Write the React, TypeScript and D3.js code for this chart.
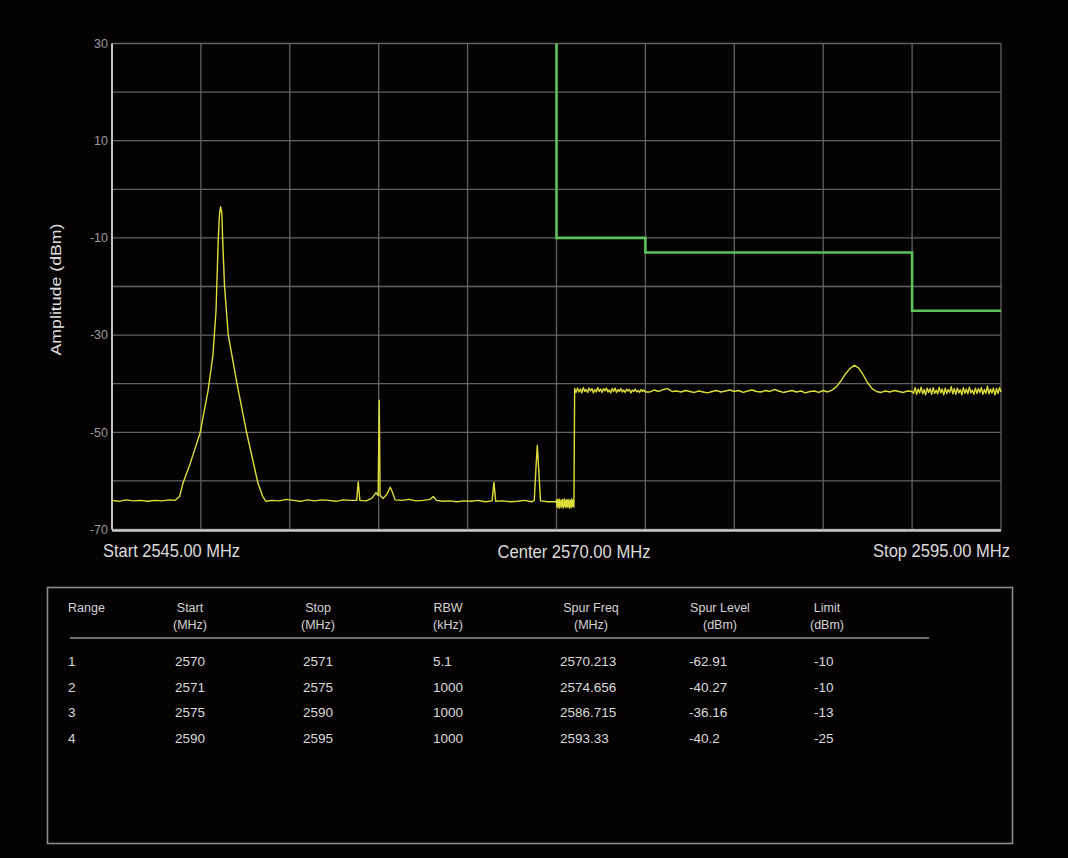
import * as d3 from 'd3';

// sweep settings
const startFreq = 2545;
const centerFreq = 2570;
const stopFreq = 2595;
const ampMin = -70;
const ampMax = 30;
const yTickLabels = [30, 10, -10, -30, -50, -70];

// spur table
const rangeIds = [1, 2, 3, 4];
const rangeStart = [2570, 2571, 2575, 2590];
const rangeStop = [2571, 2575, 2590, 2595];
const rbwKHz = [5.1, 1000, 1000, 1000];
const spurFreq = [2570.213, 2574.656, 2586.715, 2593.33];
const spurLevel = [-62.91, -40.27, -36.16, -40.2];
const limitDbm = [-10, -10, -13, -25];
const tableHeaders = [['Range'], ['Start', '(MHz)'], ['Stop', '(MHz)'], ['RBW', '(kHz)'], ['Spur Freq', '(MHz)'], ['Spur Level', '(dBm)'], ['Limit', '(dBm)']];

// carrier and low band, [MHz, dBm]
const carrierTrace: [number, number][] = [
  [2545.0, -64.0], [2545.4, -64.2], [2545.8, -63.9], [2546.2, -64.1], [2546.6, -64.0], [2547.0, -64.2], [2547.4, -64.0], [2547.8, -64.1], [2548.2, -63.9], [2548.55, -64.0],
  [2548.8, -63.2], [2548.99, -60.5], [2549.39, -56.5], [2549.95, -50.2], [2550.4, -41.5], [2550.68, -34.0], [2550.85, -25.0], [2550.98, -10.0], [2551.05, -5.0], [2551.11, -3.6], [2551.18, -5.0], [2551.22, -10.0], [2551.33, -20.0], [2551.54, -30.0], [2552.03, -40.0], [2552.58, -50.2], [2553.21, -60.5], [2553.49, -63.3], [2553.66, -64.2],
  [2554.0, -64.0], [2554.4, -64.1], [2554.8, -63.8], [2555.2, -64.0], [2555.6, -64.2], [2556.0, -63.9], [2556.4, -64.1], [2556.8, -63.9], [2557.2, -64.0], [2557.6, -64.2], [2558.0, -63.9], [2558.4, -64.0], [2558.76, -64.0],
  [2558.85, -60.2], [2558.94, -64.0],
  [2559.3, -64.1], [2559.6, -63.6], [2559.85, -62.4], [2559.97, -63.0], [2560.03, -43.4], [2560.08, -63.0], [2560.25, -63.6], [2560.45, -62.8], [2560.65, -61.3], [2560.78, -62.4], [2560.92, -63.9],
  [2561.3, -64.0], [2561.7, -63.8], [2562.1, -64.1], [2562.5, -64.0], [2562.9, -63.8], [2563.07, -63.2], [2563.25, -64.0], [2563.6, -64.2], [2564.0, -64.1], [2564.4, -64.3], [2564.8, -64.1], [2565.2, -64.2], [2565.6, -64.0], [2566.0, -64.3], [2566.38, -64.1],
  [2566.48, -60.3], [2566.58, -64.2],
  [2567.0, -64.1], [2567.4, -64.3], [2567.8, -64.2], [2568.2, -64.0], [2568.6, -64.3], [2568.75, -64.0], [2568.85, -57.0], [2568.92, -52.7], [2568.99, -57.0], [2569.1, -64.1], [2569.5, -64.3], [2569.95, -64.3],
];

// range 1 (5.1 kHz RBW) sweep samples, 2570.00 .. 2570.98 MHz
const range1Levels = [-64.0, -65.3, -63.8, -65.5, -64.2, -65.0, -63.7, -65.6, -64.4, -64.9, -63.9, -65.4, -64.1, -65.2, -63.8, -65.6, -64.5, -65.0, -63.7, -65.3, -64.3, -65.5, -63.9, -65.1, -64.0, -65.4, -63.8, -65.2, -64.4, -65.6, -63.9, -65.0, -64.2, -65.5, -63.7, -65.3, -64.1, -65.1, -63.9, -65.4];
// range 2 samples, 2571.02 .. 2575.00 MHz
const range2Levels = [-41.0, -41.8, -40.9, -41.7, -41.1, -41.9, -40.8, -41.6, -41.2, -41.8, -40.9, -41.5, -41.0, -41.9, -41.2, -41.7, -40.8, -41.6, -41.1, -41.8, -41.0, -41.5, -40.9, -41.7, -41.3, -41.9, -41.0, -41.6, -40.9, -41.8, -41.2, -41.6, -41.0, -41.7, -41.3, -41.8, -41.1, -41.5, -41.2, -41.9, -41.3, -41.6, -41.1, -41.7, -41.4, -41.8, -41.2, -41.6, -41.3, -41.7];
// range 3 samples every 0.25 MHz, 2575 .. 2590 MHz
const range3Levels = [-41.4, -41.7, -41.3, -41.6, -41.2, -41.0, -41.6, -41.5, -41.7, -41.4, -41.6, -41.8, -41.5, -41.7, -41.9, -41.6, -41.4, -41.7, -41.5, -41.3, -41.6, -41.4, -41.8, -41.5, -41.3, -41.6, -41.7, -41.4, -41.6, -41.2, -41.5, -41.8, -41.6, -41.4, -41.7, -41.5, -41.9, -41.6, -41.5, -41.8, -41.4, -41.7, -41.3, -40.6, -39.4, -38.0, -36.9, -36.2, -36.8, -38.2, -39.8, -41.0, -41.6, -41.8, -41.5, -41.7, -41.4, -41.6, -41.8, -41.5, -41.6];
// range 4 samples, 2590 .. 2595 MHz
const range4Levels = [-41.0, -42.0, -40.8, -42.2, -41.1, -41.9, -40.7, -42.1, -41.2, -42.3, -40.9, -41.8, -41.0, -42.2, -40.8, -42.0, -41.3, -42.1, -40.7, -41.9, -41.1, -42.3, -40.9, -42.0, -41.2, -41.8, -40.6, -42.1, -41.0, -42.2, -40.9, -41.9, -41.2, -42.3, -40.8, -42.0, -41.1, -42.1, -40.7, -41.9, -41.3, -42.2, -40.9, -42.0, -41.0, -41.8, -40.8, -42.2, -41.2, -42.0, -40.5, -42.1, -41.1, -41.9, -40.9, -42.3, -41.0, -42.0, -40.8, -41.7];

const W = 1068;
const H = 858;
const font = '"Liberation Sans", Arial, sans-serif';

// evenly spaced sweep points between two frequencies
function sweep(f0: number, f1: number, levels: number[]): [number, number][] {
  const at = d3.scaleLinear().domain([0, levels.length - 1]).range([f0, f1]);
  return levels.map((v, i) => [at(i), v] as [number, number]);
}

export default function App() {
  const x = d3.scaleLinear().domain([startFreq, stopFreq]).range([112, 1001]);
  const y = d3.scaleLinear().domain([ampMin, ampMax]).range([529.5, 43.5]);
  const line = d3.line<[number, number]>().x((d) => x(d[0])).y((d) => y(d[1]));

  const trace: [number, number][] = [
    ...carrierTrace,
    ...sweep(2570.0, 2570.98, range1Levels),
    ...sweep(2571.02, 2575.0, range2Levels),
    ...sweep(2575.0, 2590.0, range3Levels).slice(1),
    ...sweep(2590.0, 2595.0, range4Levels).slice(1),
  ];

  // limit mask built from the table: drops in from the top at the first range
  const limit: [number, number][] = [[rangeStart[0], ampMax]];
  rangeStart.forEach((s, i) => {
    limit.push([s, limitDbm[i]], [rangeStop[i], limitDbm[i]]);
  });

  const colLeft = [68, 175, 303, 433, 560, 689, 814];
  const headCenter = [68, 190, 318, 448, 591, 720, 827];
  const columns = [rangeIds, rangeStart, rangeStop, rbwKHz, spurFreq, spurLevel, limitDbm];

  const startLabel = `Start ${startFreq.toFixed(2)} MHz`;
  const centerLabel = `Center ${centerFreq.toFixed(2)} MHz`;
  const stopLabel = `Stop ${stopFreq.toFixed(2)} MHz`;

  return (
    <div style={{ position: 'fixed', left: 0, top: 0, width: W, height: H, background: '#040203' }}>
      <svg width={W} height={H} style={{ display: 'block' }} fontFamily={font}>
        <rect width={W} height={H} fill="#040203" />

        {/* grid */}
        <g stroke="#626262" strokeWidth={1.3}>
          {x.ticks(10).map((t) => (
            <line key={'gx' + t} x1={x(t)} x2={x(t)} y1={y(ampMax)} y2={y(ampMin)} />
          ))}
          {y.ticks(10).map((t) => (
            <line key={'gy' + t} x1={x(startFreq)} x2={x(stopFreq)} y1={y(t)} y2={y(t)} />
          ))}
        </g>
        <line x1={x(startFreq)} x2={x(startFreq)} y1={y(ampMax)} y2={y(ampMin)} stroke="#c4c4c4" strokeWidth={2} />
        <line x1={x(startFreq)} x2={x(stopFreq)} y1={y(ampMin) + 1} y2={y(ampMin) + 1} stroke="#c8c8c8" strokeWidth={2.5} />

        {/* y tick labels */}
        {yTickLabels.map((t) => (
          <text key={'yl' + t} x={108} y={y(t)} dy="0.35em" textAnchor="end" fontSize={12.5} fill="#9a9a9a">
            {String(t)}
          </text>
        ))}
        <text transform={`translate(61,${(y(ampMax) + y(ampMin)) / 2 + 3}) rotate(-90)`} textAnchor="middle" fontSize={14.5} fill="#e0e0e0" textLength={132} lengthAdjust="spacingAndGlyphs">
          Amplitude (dBm)
        </text>

        {/* limit mask and trace */}
        <path d={line(limit) ?? ''} fill="none" stroke="#5cc25a" strokeWidth={2.6} />
        <path d={line(trace) ?? ''} fill="none" stroke="#dede3a" strokeWidth={1.4} strokeLinejoin="round" />

        {/* frequency labels */}
        <text x={x(startFreq) - 9} y={557} fontSize={19} fill="#dcdcdc" textLength={137} lengthAdjust="spacingAndGlyphs">
          {startLabel}
        </text>
        <text x={x(centerFreq) - 59} y={558} fontSize={19} fill="#dcdcdc" textLength={153} lengthAdjust="spacingAndGlyphs">
          {centerLabel}
        </text>
        <text x={x(stopFreq) + 9} y={557} fontSize={19} fill="#dcdcdc" textAnchor="end" textLength={137} lengthAdjust="spacingAndGlyphs">
          {stopLabel}
        </text>

        {/* spur table */}
        <rect x={47.5} y={587.5} width={965} height={256} fill="none" stroke="#8c8c8c" strokeWidth={1.6} />
        <line x1={70} x2={929} y1={638} y2={638} stroke="#6e6e6e" strokeWidth={2} />
        {tableHeaders.map((h, c) =>
          h.map((s, k) => (
            <text
              key={'h' + c + k}
              x={headCenter[c]}
              y={612 + k * 17}
              textAnchor={c === 0 ? 'start' : 'middle'}
              fontSize={12.5}
              fill="#d4d4d4"
            >
              {s}
            </text>
          ))
        )}
        {columns.map((col, c) =>
          col.map((v, r) => (
            <text key={'c' + c + r} x={colLeft[c]} y={666 + r * 25.6} fontSize={13.5} fill="#dadada">
              {String(v)}
            </text>
          ))
        )}
      </svg>
    </div>
  );
}
